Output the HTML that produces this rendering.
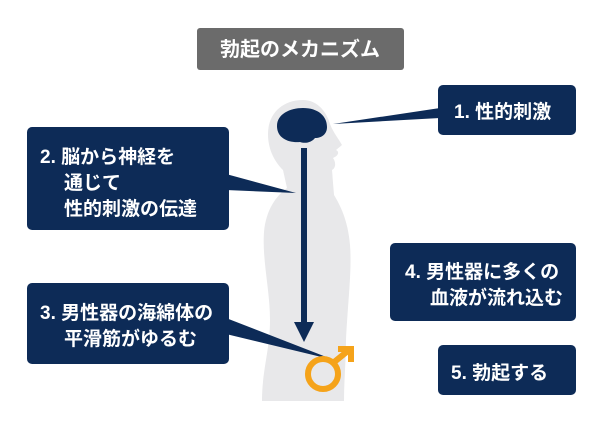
<!DOCTYPE html>
<html><head><meta charset="utf-8"><style>
body{margin:0;background:#fff;}
svg text{font-family:"Liberation Sans","Noto Sans CJK JP",sans-serif;fill:#fff;font-weight:bold;}
</style></head><body>
<svg width="600" height="427" viewBox="0 0 600 427" xmlns="http://www.w3.org/2000/svg">
<rect width="600" height="427" fill="#fff"/>
<path fill="#e8e8ea" d="M303,100 C282,100 268,114 268,134 C268,150 275,162 283,170 L287,188 C276,196 266,210 264,232 C262,260 270,290 270,320 C270,350 262,370 262,401 L344,401 C344,380 346,360 346,340 C348,300 352,270 350,245 C348,220 340,205 334,195 L332,170 C336,168 336,162 333,158 C338,156 340,152 336,150 L342,145 C338,138 333,132 330,124 C326,110 316,100 303,100 Z"/>
<rect x="197" y="28" width="207" height="42" rx="3" fill="#6b6b6b"/>
<text x="300" y="56" font-size="20" text-anchor="middle">勃起のメカニズム</text>
<polygon points="440,108 440,118 333,124" fill="#0d2b57"/>
<polygon points="226,174 226,190 296,193" fill="#0d2b57"/>
<polygon points="226,318 226,334 334,360" fill="#0d2b57"/>
<rect x="438" y="85" width="138" height="50" rx="5" fill="#0d2b57"/>
<text x="454" y="118" font-size="19">1. 性的刺激</text>
<rect x="27" y="127" width="202" height="103" rx="5" fill="#0d2b57"/>
<text font-size="19"><tspan x="40" y="163">2. 脳から神経を</tspan><tspan x="64" y="189">通じて</tspan><tspan x="64" y="215">性的刺激の伝達</tspan></text>
<rect x="27" y="283" width="202" height="81" rx="5" fill="#0d2b57"/>
<text font-size="19"><tspan x="40" y="319">3. 男性器の海綿体の</tspan><tspan x="64" y="345">平滑筋がゆるむ</tspan></text>
<rect x="390" y="243" width="186" height="78" rx="5" fill="#0d2b57"/>
<text font-size="19"><tspan x="405" y="278">4. 男性器に多くの</tspan><tspan x="430" y="304">血液が流れ込む</tspan></text>
<rect x="438" y="345" width="138" height="50" rx="5" fill="#0d2b57"/>
<text x="451" y="379" font-size="19">5. 勃起する</text>
<path fill="#0d2b57" d="M277,126 C277,114 290,108 303,108 C318,108 327,116 327,127 C327,134 322,138 315,138 C312,142 306,144 300,142 C288,143 277,138 277,126 Z"/>
<rect x="301" y="148" width="6" height="178" fill="#0d2b57"/>
<polygon points="294,322 314,322 304,342" fill="#0d2b57"/>
<circle cx="323" cy="374" r="15" fill="none" stroke="#f5a31a" stroke-width="6"/>
<line x1="333" y1="363" x2="349" y2="350" stroke="#f5a31a" stroke-width="6"/>
<polyline points="338,349 351,349 351,362" fill="none" stroke="#f5a31a" stroke-width="6"/>
</svg>
</body></html>
